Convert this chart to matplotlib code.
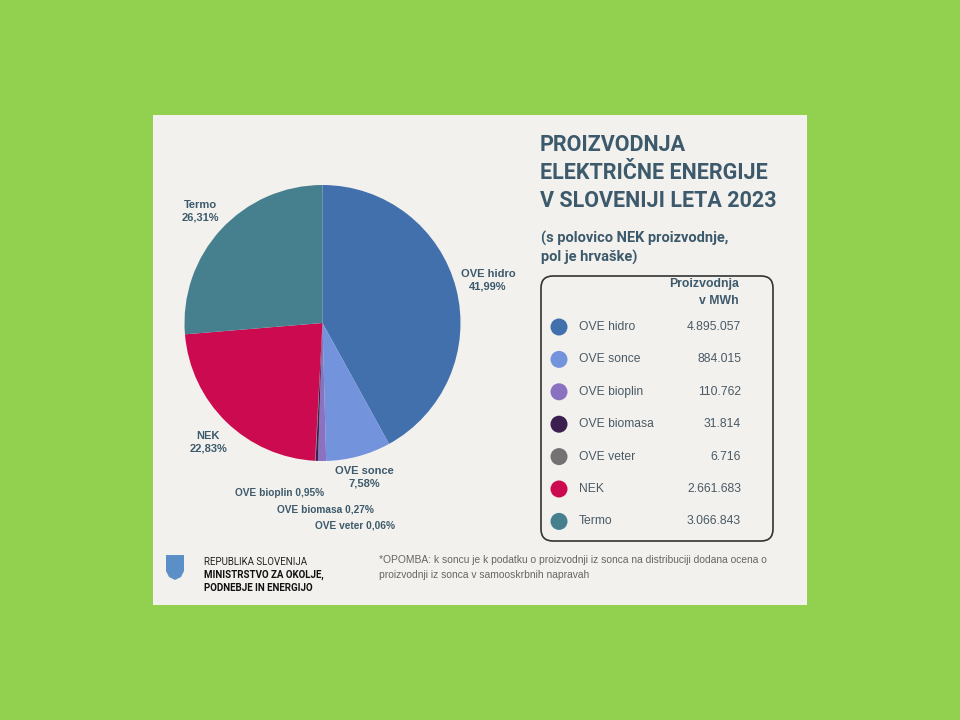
import matplotlib.pyplot as plt
from matplotlib.patches import FancyBboxPatch, Rectangle, Circle, Polygon

# podatki
kategorije = ['OVE hidro', 'OVE sonce', 'OVE bioplin', 'OVE biomasa', 'OVE veter', 'NEK', 'Termo']
proizvodnja = [4895057, 884015, 110762, 31814, 6716, 2661683, 3066843]
barve = ['#4270ad', '#7393dc', '#8a72c0', '#3b1f4f', '#737373', '#cc0a50', '#46808f']

naslov = ['PROIZVODNJA', 'ELEKTRIČNE ENERGIJE', 'V SLOVENIJI LETA 2023']
podnaslov = ['(s polovico NEK proizvodnje,', 'pol je hrvaške)']
opomba = ['*OPOMBA: k soncu je k podatku o proizvodnji iz sonca na distribuciji dodana ocena o',
          'proizvodnji iz sonca v samooskrbnih napravah']

txt_col = '#3d5a6c'
leg_col = '#4a5a66'

def fmt_num(v):
    return f'{v:,}'.replace(',', '.')

def fmt_pct(v):
    return f'{v:.2f}%'.replace('.', ',')

skupaj = sum(proizvodnja)
odstotki = [100 * v / skupaj for v in proizvodnja]

fig = plt.figure(figsize=(9.6, 7.2), dpi=100)
fig.patch.set_facecolor('#92d050')

# ozadje v pikslih
bg = fig.add_axes([0, 0, 1, 1])
bg.set_xlim(0, 960)
bg.set_ylim(720, 0)
bg.axis('off')
bg.add_patch(Rectangle((153, 115), 654, 490, facecolor='#f2f1ed', edgecolor='none'))

# tortni graf
cx, cy, r = 322.5, 323, 138
pie_ax = fig.add_axes([(cx - r) / 960, 1 - (cy + r) / 720, 2 * r / 960, 2 * r / 720])
pie_ax.pie(proizvodnja, colors=barve, startangle=90, counterclock=False,
           wedgeprops=dict(linewidth=0))
pie_ax.set_xlim(-1, 1)
pie_ax.set_ylim(-1, 1)
pie_ax.set_aspect('equal')
pie_ax.axis('off')

# oznake na grafu
lab_kw = dict(fontweight='bold', color=txt_col, family='Liberation Sans',
              ha='center', va='center')
oznake = {
    'Termo': (200, 211, True),
    'OVE hidro': (488, 280, True),
    'NEK': (208, 442, True),
    'OVE sonce': (364, 477, True),
    'OVE bioplin': (280, 493, False),
    'OVE biomasa': (325, 509, False),
    'OVE veter': (355, 525, False),
}
for k, p in zip(kategorije, odstotki):
    x, y, dve = oznake[k]
    if dve:
        bg.text(x, y, f'{k}\n{fmt_pct(p)}', fontsize=8, linespacing=1.35, **lab_kw)
    else:
        bg.text(x, y, f'{k} {fmt_pct(p)}', fontsize=7.3, **lab_kw)

# naslov
for i, vrst in enumerate(naslov):
    bg.text(540, 145 + i * 28, vrst, fontsize=15.5, fontweight='bold', color=txt_col,
            family='Roboto', va='center', ha='left')
for i, vrst in enumerate(podnaslov):
    bg.text(541, 238 + i * 19, vrst, fontsize=10.5, fontweight='bold', color=txt_col,
            family='Roboto', va='center', ha='left')

# legenda
bg.add_patch(FancyBboxPatch((541, 276), 232, 265, boxstyle='round,pad=0,rounding_size=12',
                            facecolor='none', edgecolor='#333333', linewidth=1.2))
bg.text(739, 284, 'Proizvodnja', fontsize=8.8, fontweight='bold', color=txt_col,
        family='Liberation Sans', ha='right', va='center')
bg.text(739, 301, 'v MWh', fontsize=8.8, fontweight='bold', color=txt_col,
        family='Liberation Sans', ha='right', va='center')
for i, (k, v, c) in enumerate(zip(kategorije, proizvodnja, barve)):
    y = 327 + i * 32.4
    bg.add_patch(Circle((559, y), 8.5, facecolor=c, edgecolor='none'))
    bg.text(579, y, k, fontsize=8.7, color=leg_col, family='Liberation Sans', va='center')
    bg.text(741, y, fmt_num(v), fontsize=8.7, color=leg_col, family='Liberation Sans',
            va='center', ha='right')

# noga
bg.add_patch(Polygon([(166, 555), (184, 555), (184, 571), (181, 577), (175, 580),
                      (169, 577), (166, 571)],
                     closed=True, facecolor='#5b8fc7', edgecolor='none'))
bg.text(204, 562, 'REPUBLIKA SLOVENIJA', fontsize=7, color='#222222', family='Roboto', va='center')
bg.text(204, 575, 'MINISTRSTVO ZA OKOLJE,', fontsize=7, fontweight='bold', color='#111111',
        family='Roboto', va='center')
bg.text(204, 588, 'PODNEBJE IN ENERGIJO', fontsize=7, fontweight='bold', color='#111111',
        family='Roboto', va='center')
for i, vrst in enumerate(opomba):
    bg.text(379, 560 + i * 15, vrst, fontsize=7.35, color='#666666', family='Liberation Sans',
            va='center')

fig.savefig('out.png', dpi=100, facecolor=fig.get_facecolor())
